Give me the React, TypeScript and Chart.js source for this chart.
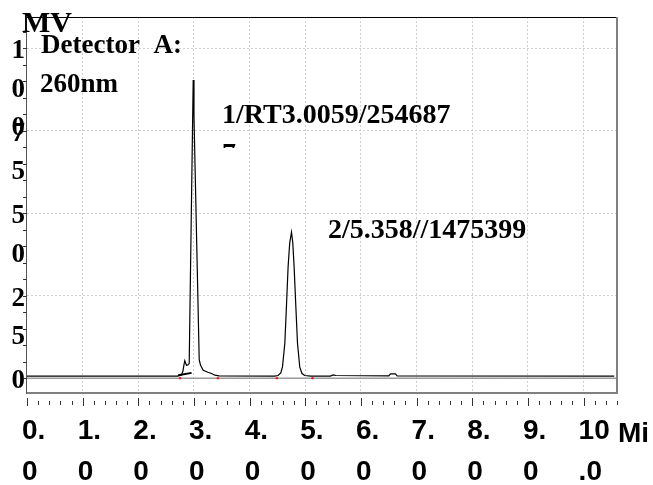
import React, { useEffect, useRef } from "react";
import { Chart, registerables } from "chart.js";

Chart.register(...registerables);

// ---- data ----
const traceTimes = [
  0.0, 1.0, 2.0, 2.7, 2.77, 2.8, 2.82, 2.835, 2.85, 2.865, 2.89, 2.914, 2.93, 2.95, 2.97, 2.986,
  3.0, 3.02, 3.05, 3.07, 3.094, 3.118, 3.166, 3.25, 3.316, 3.375, 3.45, 4.45, 4.51, 4.56, 4.59,
  4.632, 4.662, 4.691, 4.72, 4.752, 4.775, 4.799, 4.829, 4.86, 4.9, 4.94, 4.99, 5.1, 5.45, 5.5,
  5.55, 6.5, 6.53, 6.62, 6.65, 10.55,
];
const traceValues = [
  0.6, 0.6, 0.6, 0.6, 0.9, 2.0, 4.0, 5.3, 4.6, 3.9, 4.0, 4.4, 23.5, 47.3, 71.2, 90.3,
  79.3, 63.6, 40.0, 24.4, 5.5, 3.9, 2.4, 1.8, 1.4, 0.9, 0.7, 0.6, 0.8, 1.6, 3.4,
  10.5, 22.1, 33.7, 41.0, 44.2, 41.0, 33.7, 22.1, 10.5, 3.4, 1.4, 0.8, 0.6, 0.6, 1.0,
  0.8, 0.7, 1.3, 1.3, 0.7, 0.6,
];
const baselineMarkTimes = [2.716, 2.957];
const baselineMarkValues = [0.9, 1.6];
const integrationMarkTimes = [2.75, 3.43, 4.49, 5.13];
const integrationMarkValues = [0, 0, 0, 0];
const zeroLineTimes = [0, 10.6];
const zeroLineValues = [0, 0];

const xTickValues = [0, 1, 2, 3, 4, 5, 6, 7, 8, 9, 10];
const yTickValues = [0, 25, 50, 75, 100];
const xMinorStep = 0.2;
const yMinorStep = 5;

const yAxisTitle = "MV";
const xAxisTitle = "Mi";
const detectorLines = ["Detector  A:", "260nm"];
const peak1Label = "1/RT3.0059/254687";
const peak1Overflow = "7";
const peak2Label = "2/5.358//1475399";

const SERIF = '"Liberation Serif", "Times New Roman", serif';
const SANS = '"Liberation Sans", Arial, sans-serif';

const decorPlugin = {
  id: "decor",
  afterDraw(chart: any) {
    const { ctx, chartArea: a, scales } = chart;
    const xs = scales.x;
    const ys = scales.y;
    ctx.save();

    // frame
    ctx.lineWidth = 1;
    ctx.strokeStyle = "#000";
    ctx.beginPath();
    ctx.moveTo(a.left, a.top + 0.5);
    ctx.lineTo(a.right, a.top + 0.5);
    ctx.stroke();

    ctx.strokeStyle = "#555";
    ctx.beginPath();
    ctx.moveTo(a.left - 0.5, a.top);
    ctx.lineTo(a.left - 0.5, a.bottom + 1);
    ctx.stroke();

    ctx.strokeStyle = "#808080";
    ctx.lineWidth = 2;
    ctx.beginPath();
    ctx.moveTo(a.right, a.top);
    ctx.lineTo(a.right, a.bottom + 1);
    ctx.moveTo(a.left, a.bottom);
    ctx.lineTo(a.right + 1, a.bottom);
    ctx.stroke();

    // x ticks (below frame, with a gap)
    ctx.lineWidth = 1;
    ctx.strokeStyle = "#333";
    ctx.beginPath();
    const xMax = xs.max;
    for (let i = 0; i * xMinorStep <= xMax + 1e-9; i++) {
      const v = i * xMinorStep;
      const px = Math.round(xs.getPixelForValue(v)) + 0.5;
      const major = i % 5 === 0;
      ctx.moveTo(px, a.bottom + (major ? 5 : 8));
      ctx.lineTo(px, a.bottom + (major ? 13 : 12));
    }
    ctx.stroke();

    // y minor ticks
    ctx.beginPath();
    for (let i = 0; i * yMinorStep <= ys.max; i++) {
      const v = i * yMinorStep;
      const py = Math.round(ys.getPixelForValue(v)) + 0.5;
      ctx.moveTo(a.left - 4, py);
      ctx.lineTo(a.left, py);
    }
    ctx.stroke();

    // texts
    ctx.fillStyle = "#000";
    ctx.textAlign = "left";
    ctx.textBaseline = "alphabetic";
    ctx.font = `bold 27px ${SERIF}`;
    ctx.fillText(detectorLines[0], 41, 53);
    ctx.fillText(detectorLines[1], 40, 92);

    ctx.font = `bold 28px ${SERIF}`;
    ctx.fillText(peak1Label, 222, 123);
    ctx.fillText(peak2Label, 328, 238);
    ctx.save();
    ctx.beginPath();
    ctx.rect(200, 130, 60, 18);
    ctx.clip();
    ctx.fillText(peak1Overflow, 222, 162);
    ctx.restore();

    ctx.font = `bold 30px ${SERIF}`;
    ctx.fillText(yAxisTitle, 22, 32);

    ctx.font = `bold 28px ${SANS}`;
    ctx.fillText(xAxisTitle, 618, 442);

    ctx.restore();
  },
};

const pts = (xs: number[], ys: number[]) => xs.map((x, i) => ({ x, y: ys[i] }));

export default function App() {
  const ref = useRef<HTMLCanvasElement | null>(null);

  useEffect(() => {
    if (!ref.current) return;
    const chart = new Chart(ref.current, {
      type: "line",
      data: {
        datasets: [
          {
            data: pts(integrationMarkTimes, integrationMarkValues),
            showLine: false,
            pointRadius: 1.2,
            pointBorderWidth: 0,
            pointBackgroundColor: "#e02020",
            borderColor: "#e02020",
          },
          {
            data: pts(traceTimes, traceValues),
            borderColor: "#000",
            borderWidth: 1.2,
            pointRadius: 0,
            tension: 0,
            fill: false,
          },
          {
            data: pts(baselineMarkTimes, baselineMarkValues),
            borderColor: "#000",
            borderWidth: 2,
            pointRadius: 0,
          },
          {
            data: pts(zeroLineTimes, zeroLineValues),
            borderColor: "#9a9a9a",
            borderWidth: 1.5,
            pointRadius: 0,
          },
        ],
      },
      options: {
        animation: false,
        responsive: false,
        devicePixelRatio: 1,
        layout: { padding: { left: 0, top: 17, right: 36, bottom: 0 } },
        plugins: { legend: { display: false }, tooltip: { enabled: false } },
        scales: {
          x: {
            type: "linear",
            min: 0,
            max: 10.6,
            afterBuildTicks: (s: any) => {
              s.ticks = xTickValues.map((v) => ({ value: v }));
            },
            afterFit: (s: any) => {
              s.height = 92;
              s.paddingLeft = 0;
              s.paddingRight = 0;
              s.paddingTop = 0;
              s.paddingBottom = 0;
            },
            grid: {
              drawTicks: false,
              color: (c: any) => (c.tick && c.tick.value === 0 ? "rgba(0,0,0,0)" : "#cfcfcf"),
              lineWidth: 1,
            },
            border: { display: false, dash: [2, 2] },
            ticks: {
              autoSkip: false,
              maxRotation: 0,
              minRotation: 0,
              align: "start",
              labelOffset: -5,
              padding: 18,
              color: "#000",
              font: { family: SANS, size: 28, weight: "bold", lineHeight: 1.46 },
              callback: (v: any) => {
                const s = Number(v).toFixed(1);
                const out: string[] = [];
                for (let i = 0; i < s.length; i += 2) out.push(s.slice(i, i + 2));
                return out;
              },
            },
          },
          y: {
            type: "linear",
            min: -4.5,
            max: 109.4,
            afterBuildTicks: (s: any) => {
              s.ticks = yTickValues.map((v) => ({ value: v }));
            },
            afterFit: (s: any) => {
              s.width = 27;
              s.paddingLeft = 0;
              s.paddingRight = 0;
              s.paddingTop = 0;
              s.paddingBottom = 0;
            },
            grid: {
              drawTicks: false,
              color: (c: any) => (c.tick && c.tick.value === 0 ? "rgba(0,0,0,0)" : "#cfcfcf"),
              lineWidth: 1,
            },
            border: { display: false, dash: [2, 2] },
            ticks: {
              autoSkip: false,
              padding: 2,
              labelOffset: 3,
              color: "#000",
              font: { family: SERIF, size: 27, weight: "bold", lineHeight: 1.43 },
              callback: (v: any) => {
                const chars = String(v).split("");
                const pad = new Array(chars.length - 1).fill("");
                return [...pad, ...chars];
              },
            },
          },
        },
      },
      plugins: [decorPlugin],
    });
    return () => chart.destroy();
  }, []);

  return (
    <div style={{ position: "absolute", left: 0, top: 0, width: 653, height: 485 }}>
      <canvas ref={ref} width={653} height={485} style={{ display: "block" }} />
    </div>
  );
}
